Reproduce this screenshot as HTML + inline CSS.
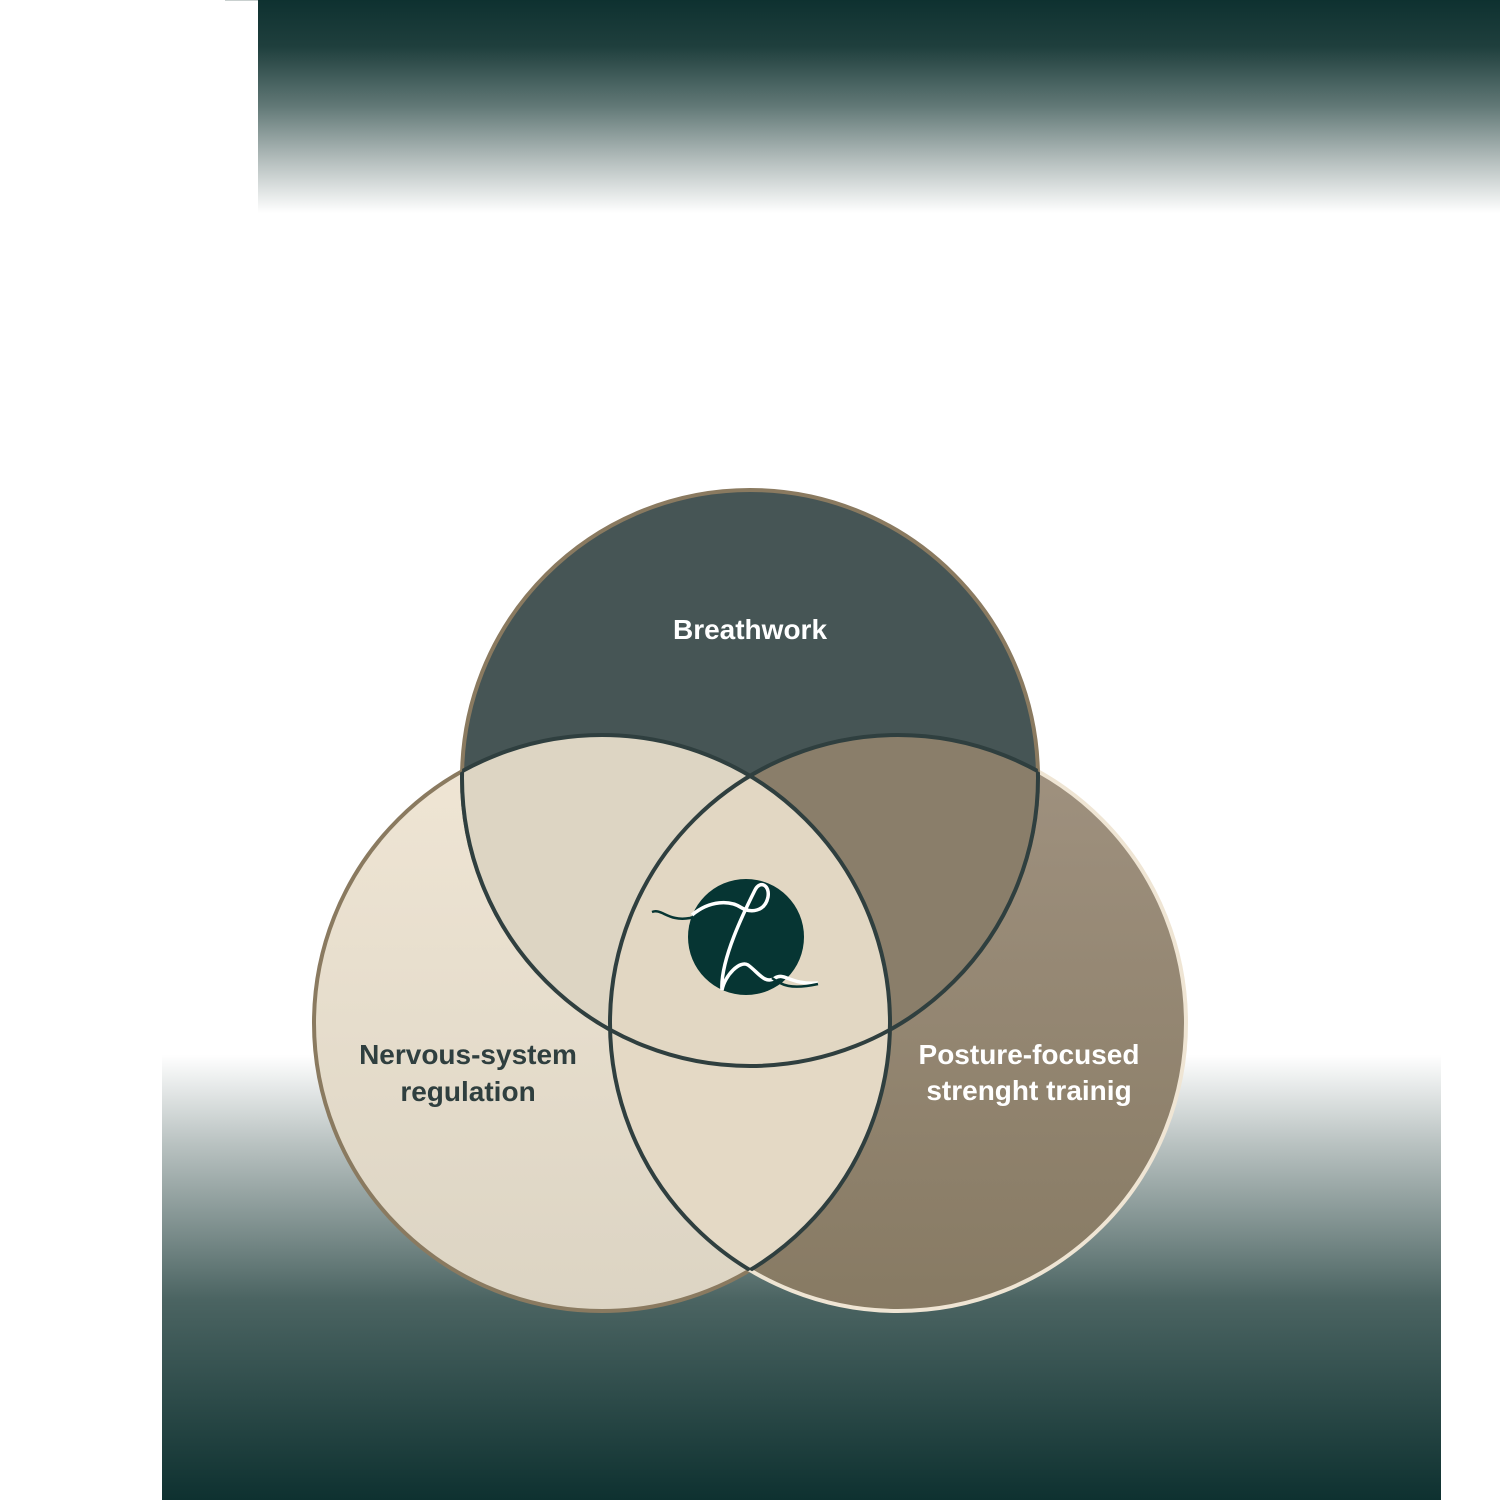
<!DOCTYPE html>
<html><head><meta charset="utf-8"><style>
html,body{margin:0;padding:0;background:#fff;width:1500px;height:1500px;overflow:hidden}
svg{display:block}
</style></head><body>
<svg width="1500" height="1500" viewBox="0 0 1500 1500" xmlns="http://www.w3.org/2000/svg">
<defs>
<linearGradient id="gt" x1="0" y1="0" x2="0" y2="1">
<stop offset="0" stop-color="#0e3130"/><stop offset="0.22" stop-color="#1f3f3d"/><stop offset="0.5" stop-color="#627977"/><stop offset="0.75" stop-color="#b3bdbc"/><stop offset="1" stop-color="#ffffff"/></linearGradient>
<linearGradient id="gb" x1="0" y1="0" x2="0" y2="1">
<stop offset="0" stop-color="#ffffff"/><stop offset="0.2" stop-color="#b9c2c1"/><stop offset="0.55" stop-color="#4b6462"/><stop offset="1" stop-color="#0e3130"/></linearGradient>
<linearGradient id="gl" x1="0" y1="0" x2="0" y2="1">
<stop offset="0" stop-color="#f0e6d5"/><stop offset="1" stop-color="#dcd4c3"/></linearGradient>
<linearGradient id="gr" x1="0" y1="0" x2="0" y2="1">
<stop offset="0" stop-color="#a09280"/><stop offset="1" stop-color="#877a63"/></linearGradient>
<clipPath id="cT"><circle cx="750" cy="778" r="288"/></clipPath>
<clipPath id="cL"><circle cx="602" cy="1023" r="288"/></clipPath>
<clipPath id="cR"><circle cx="898" cy="1023" r="288"/></clipPath>
<clipPath id="cLR"><circle cx="602" cy="1023" r="288"/><circle cx="898" cy="1023" r="288"/></clipPath>
<clipPath id="cTR"><circle cx="750" cy="778" r="288"/><circle cx="898" cy="1023" r="288"/></clipPath>
<clipPath id="cTL"><circle cx="750" cy="778" r="288"/><circle cx="602" cy="1023" r="288"/></clipPath>
</defs>
<rect x="258" y="0" width="1242" height="213" fill="url(#gt)"/>
<rect x="225" y="0" width="33" height="1" fill="#c9d0cf"/>
<rect x="162" y="1055" width="1279" height="445" fill="url(#gb)"/>

<circle cx="602" cy="1023" r="288" fill="url(#gl)" stroke="#8a7a60" stroke-width="4"/>
<circle cx="898" cy="1023" r="288" fill="url(#gr)" stroke="#efe5d4" stroke-width="4"/>
<circle cx="750" cy="778" r="288" fill="#465555" stroke="#8a7a60" stroke-width="4"/>
<g clip-path="url(#cT)"><circle cx="602" cy="1023" r="288" fill="#ddd5c3"/><circle cx="898" cy="1023" r="288" fill="#8a7e6a"/></g>
<g clip-path="url(#cL)"><circle cx="898" cy="1023" r="288" fill="#e4d9c5"/></g>
<g clip-path="url(#cL)"><g clip-path="url(#cR)"><circle cx="750" cy="778" r="288" fill="#e2d7c3"/></g></g>

<g fill="none" stroke="#2f3f3f" stroke-width="4">
<circle cx="602" cy="1023" r="288" clip-path="url(#cTR)"/>
<circle cx="898" cy="1023" r="288" clip-path="url(#cTL)"/>
<circle cx="750" cy="778" r="288" clip-path="url(#cLR)"/>
</g>

<g font-family="'Liberation Sans',sans-serif" font-weight="bold" font-size="28" text-anchor="middle">
<text x="750" y="639" fill="#ffffff">Breathwork</text>
<text x="468" y="1064" fill="#2f3f3f">Nervous-system</text>
<text x="468" y="1101" fill="#2f3f3f">regulation</text>
<text x="1029" y="1064" fill="#ffffff">Posture-focused</text>
<text x="1029" y="1100" fill="#ffffff">strenght trainig</text>
</g>

<circle cx="746" cy="937" r="58" fill="#063533"/>
<path d="M652 912 C662 908 668 922 690 918 C705 914 715 900 735 905" fill="none" stroke="#063533" stroke-width="2.5"/>
<path d="M692 915 C710 900 730 900 742 908 C750 913 765 912 768 897 C770 885 760 880 755 890 C745 910 720 960 722 990 C725 975 740 960 748 965 C758 972 765 985 775 978 C785 972 790 985 818 983" fill="none" stroke="#ffffff" stroke-width="3.5"/>
<path d="M772 978 C782 985 790 990 818 984" fill="none" stroke="#063533" stroke-width="2.5"/>
</svg>
</body></html>
